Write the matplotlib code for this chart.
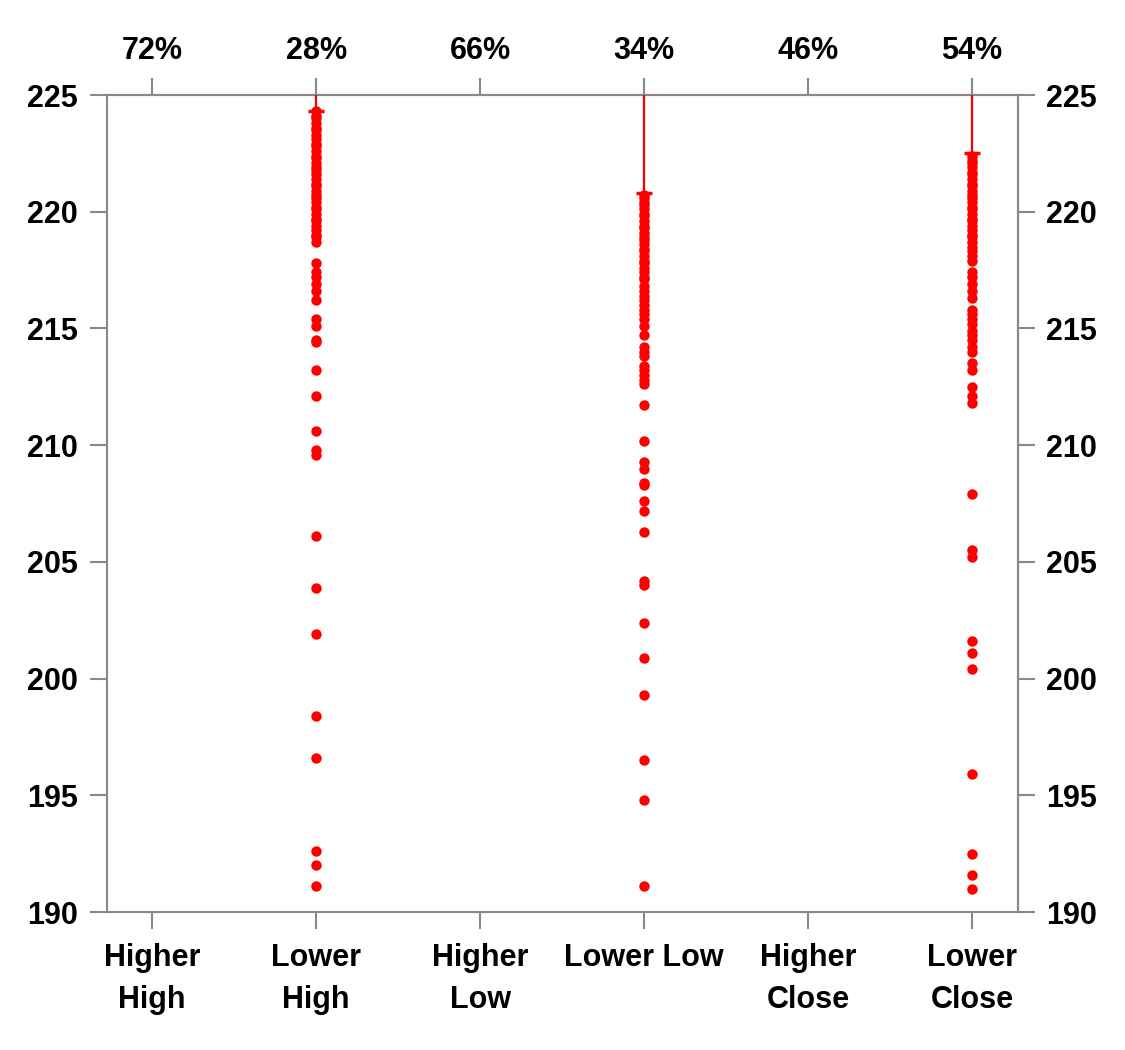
import matplotlib
matplotlib.use("Agg")
import matplotlib.pyplot as plt

# Categories and labels
categories = ["Higher\nHigh", "Lower\nHigh", "Higher\nLow", "Lower Low", "Higher\nClose", "Lower\nClose"]
top_labels = ["72%", "28%", "66%", "34%", "46%", "54%"]
y_ticks = [190, 195, 200, 205, 210, 215, 220, 225]

# Price levels per category (only the "Lower" categories have points)
lower_high = [224.3, 224.1, 224.0, 223.8, 223.6, 223.5, 223.3, 223.1, 222.9, 222.8,
              222.6, 222.4, 222.3, 222.1, 221.9, 221.8, 221.6, 221.4, 221.2, 221.1,
              220.9, 220.7, 220.6, 220.4, 220.2, 220.1, 219.9, 219.7, 219.6, 219.4,
              219.2, 219.0, 218.9, 218.7, 217.8, 217.4, 217.2, 216.9, 216.6, 216.2,
              215.4, 215.1, 214.5, 214.4, 213.2, 212.1, 210.6, 209.8, 209.6, 206.1,
              203.9, 201.9, 198.4, 196.6, 192.6, 192.0, 191.1]
lower_low = [220.7, 220.6, 220.4, 220.3, 220.1, 219.9, 219.8, 219.6, 219.4, 219.3,
             219.1, 218.9, 218.8, 218.6, 218.4, 218.3, 218.1, 217.9, 217.8, 217.6,
             217.4, 217.2, 217.1, 216.8, 216.6, 216.4, 216.2, 216.0, 215.8, 215.6,
             215.4, 215.1, 214.7, 214.2, 214.0, 213.8, 213.4, 213.2, 213.0, 212.8,
             212.6, 211.7, 210.2, 209.3, 209.0, 208.4, 208.3, 207.6, 207.2, 206.3,
             204.2, 204.0, 202.4, 200.9, 199.3, 196.5, 194.8, 191.1]
lower_close = [222.4, 222.2, 222.1, 221.9, 221.7, 221.6, 221.4, 221.2, 221.1, 220.9,
               220.7, 220.6, 220.4, 220.2, 220.1, 219.9, 219.7, 219.6, 219.4, 219.2,
               219.0, 218.9, 218.7, 218.5, 218.3, 218.1, 217.9, 217.4, 217.2, 216.9,
               216.6, 216.3, 215.8, 215.6, 215.4, 215.2, 214.9, 214.7, 214.5, 214.2,
               214.0, 213.5, 213.2, 212.5, 212.1, 211.8, 207.9, 205.5, 205.2, 201.6,
               201.1, 200.4, 195.9, 192.5, 191.6, 191.0]
series = {1: lower_high, 3: lower_low, 5: lower_close}

# Cap level drawn with a line running up past the top of the axis
caps = {1: 224.3, 3: 220.8, 5: 222.5}

plt.rcParams["font.family"] = ["Liberation Sans", "DejaVu Sans"]
plt.rcParams["font.weight"] = "bold"
fsize = 22

grey = "#898989"
red = "#ff0000"

fig = plt.figure(figsize=(11.25, 10.5), dpi=100)
ax = fig.add_axes([0.0951, 0.1314, 0.8098, 0.7781])

for i, vals in series.items():
    ax.plot([i] * len(vals), vals, "o", color=red, markersize=7.5,
            markeredgewidth=0, zorder=3)

for i, c in caps.items():
    ax.vlines(i, c, 230, color=red, linewidth=1.6, zorder=3)
    ax.plot([i], [c], marker="_", color=red, markersize=12,
            markeredgewidth=2.5, zorder=4)

ax.set_xlim(-0.275, 5.28)
ax.set_ylim(190, 225)

ax.set_xticks(range(len(categories)))
ax.set_xticklabels(categories, linespacing=1.55, fontweight="bold")
ax.set_yticks(y_ticks)

# Top axis with percentages
top = ax.secondary_xaxis("top")
top.set_xticks(range(len(top_labels)))
top.set_xticklabels(top_labels, fontweight="bold")

# Right axis repeating the price ticks
right = ax.secondary_yaxis("right")
right.set_yticks(y_ticks)

for a in (ax, top, right):
    for s in a.spines.values():
        s.set_color(grey)
        s.set_linewidth(1.5)
    a.tick_params(direction="out", length=12, width=1.5, color=grey,
                  labelcolor="black", labelsize=fsize)

ax.tick_params(axis="x", pad=10)
ax.tick_params(axis="y", pad=9)
top.tick_params(axis="x", pad=9)
right.tick_params(axis="y", pad=8)

fig.savefig("out.png", dpi=100)
